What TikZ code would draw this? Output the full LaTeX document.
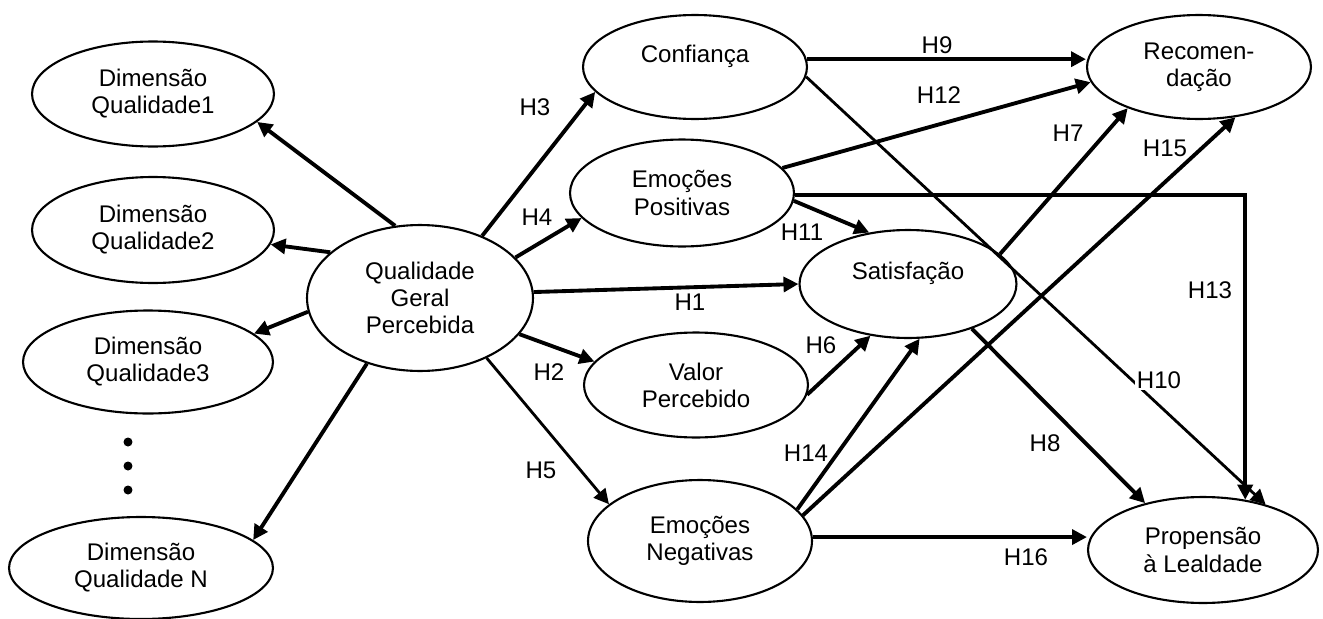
\documentclass[tikz,border=0pt]{standalone}
\usepackage{fontspec}
\setmainfont{Liberation Sans}
\usetikzlibrary{shapes.geometric}
\usetikzlibrary {arrows.meta}

\begin{document}
\begin{tikzpicture}[
					x=0.02cm, y=-0.02cm,
					font=\fontsize{13.7}{15.4}\selectfont,
					v/.style={ellipse, draw=black, line width=1.2pt, align=center, inner sep=0pt},
					h/.style={inner sep=1pt},
					arr/.style={-{Triangle[length=8.5pt, width=8.5pt]}, line width=2.2pt},
					tarr/.style={-{Triangle[length=8.5pt, width=8.5pt]}, line width=1.6pt}
					]
					\useasboundingbox (0,0) rectangle (1323,619);
					
					%Nodes
					\node[v, minimum width=4.84cm, minimum height=2.10cm] (dim1)  at (153, 94)  {Dimensão\\Qualidade1};
					\node[v, minimum width=4.84cm, minimum height=2.12cm] (dim2)  at (153, 230) {Dimensão\\Qualidade2};
					\node[v, minimum width=5.00cm, minimum height=2.06cm] (dim3)  at (148, 362) {Dimensão\\Qualidade3};
					\node[v, minimum width=5.28cm, minimum height=2.04cm] (dimn)  at (141, 568) {Dimensão\\Qualidade N};
					\node[v, minimum width=4.52cm, minimum height=2.92cm] (qgp)   at (420, 298) {Qualidade\\Geral\\Percebida};
					\node[v, minimum width=4.48cm, minimum height=2.08cm] (conf)  at (695, 67)  {Confiança\\\mbox{}};
					\node[v, minimum width=4.48cm, minimum height=2.14cm] (pos)   at (682, 193) {Emoções\\Positivas};
					\node[v, minimum width=4.34cm, minimum height=2.16cm] (sat)   at (908, 284) {Satisfação\\\mbox{}};
					\node[v, minimum width=4.48cm, minimum height=2.10cm] (valor) at (696, 385) {Valor\\Percebido};
					\node[v, minimum width=4.48cm, minimum height=2.44cm] (neg)   at (700, 541) {Emoções\\Negativas};
					\node[v, minimum width=4.48cm, minimum height=2.08cm] (rec)   at (1199, 67) {Recomen-\\dação};
					\node[v, minimum width=4.60cm, minimum height=2.12cm] (prop)  at (1203, 550) {Propensão\\à Lealdade};
					
					%Dots
					\fill (128, 442) circle (0.09cm);
					\fill (128, 466) circle (0.09cm);
					\fill (128, 490) circle (0.09cm);
					
					%Lines
					\draw[arr] (qgp.109) to (dim1.345);
					\draw[arr] (qgp.153) to (dim2.353);
					\draw[arr] (qgp.187) to (dim3.15);
					\draw[arr] (qgp.231) to (dimn.14);
					\draw[arr] (qgp.45) to (conf.194);
					\draw[arr] (qgp.23) to (pos.194);
					\draw[arr] (qgp.3) to (sat.180);
					\draw[arr] (qgp.340) to (valor.167);
					\draw[tarr] (qgp.318) to (neg.158);
					\draw[arr] (conf.4) to (conf.4 -| rec.west);
					\draw[tarr] (conf.355) to (prop.36);
					\draw[arr] (pos.14) to (rec.188);
					\draw[arr] (pos.359) -| (prop.50);
					\draw[arr] (pos.356) to (sat.127);
					\draw[arr] (sat.18) to (rec.210);
					\draw[arr] (sat.325) to (prop.141);
					\draw[arr] (valor.355) to (sat.234);
					\draw[arr] (neg.18) to (sat.282);
					\draw[arr] (neg.14) to (rec.306);
					\draw[arr] (neg.2) to (neg.2 -| prop.west);
					
					%Labels
					\node[h] (h1)  at (690, 302)  {H1};
					\node[h] (h2)  at (549, 372)  {H2};
					\node[h] (h3)  at (535, 107)  {H3};
					\node[h] (h4)  at (537, 217)  {H4};
					\node[h] (h5)  at (541, 470)  {H5};
					\node[h] (h6)  at (821, 345)  {H6};
					\node[h] (h7)  at (1068, 133) {H7};
					\node[h] (h8)  at (1045, 443) {H8};
					\node[h, fill=white] (h9)  at (937, 45)  {H9};
					\node[h, fill=white] (h10) at (1159, 380) {H10};
					\node[h] (h11) at (802, 232)  {H11};
					\node[h] (h12) at (939, 95)   {H12};
					\node[h] (h13) at (1210, 290) {H13};
					\node[h] (h14) at (806, 453)  {H14};
					\node[h] (h15) at (1165, 148) {H15};
					\node[h] (h16) at (1026, 557) {H16};
				\end{tikzpicture}
\end{document}
